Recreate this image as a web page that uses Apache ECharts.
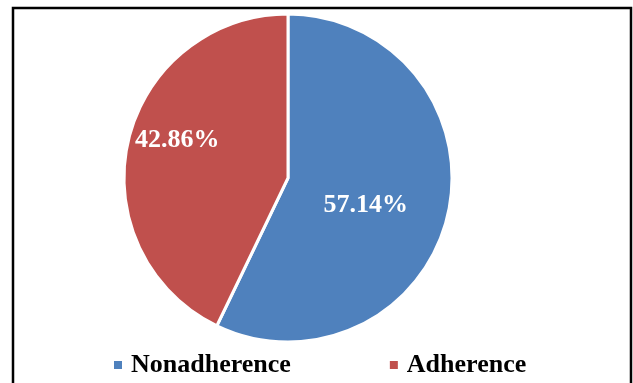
<!DOCTYPE html>
<html>
<head>
<meta charset="utf-8">
<script src="https://cdn.jsdelivr.net/npm/echarts@6/dist/echarts.min.js"></script>
<style>
html,body{margin:0;padding:0;background:#fff;}
#chart{width:633px;height:383px;}
</style>
</head>
<body>
<div id="chart"></div>
<script>
const categories = ["Nonadherence", "Adherence"];
const percentValues = [57.14, 42.86];
const sliceColors = ["#4F81BD", "#C0504D"];
const labelOffsets = [[-5, 8], [-28, -19]];

const chart = echarts.init(document.getElementById('chart'), null, {renderer: 'canvas'});
const font = '"Times New Roman", "Liberation Serif", serif';

chart.setOption({
  animation: false,
  backgroundColor: '#fff',
  graphic: [{
    type: 'rect',
    shape: {x: 13, y: 8, width: 618, height: 400},
    style: {fill: 'none', stroke: '#000', lineWidth: 2.5},
    silent: true
  }],
  legend: {
    data: categories,
    left: 112,
    top: 352,
    padding: 0,
    icon: 'rect',
    itemWidth: 10,
    itemHeight: 10,
    itemGap: 97,
    textStyle: {
      fontFamily: font,
      fontWeight: 'bold',
      fontSize: 26,
      color: '#000',
      padding: [0, 0, 0, 3]
    }
  },
  series: [{
    type: 'pie',
    center: [288, 178],
    radius: 164,
    startAngle: 90,
    clockwise: true,
    data: categories.map((c, i) => ({
      name: c,
      value: percentValues[i],
      itemStyle: {color: sliceColors[i]},
      label: {offset: labelOffsets[i]}
    })),
    itemStyle: {borderColor: '#fff', borderWidth: 3},
    label: {
      show: true,
      position: 'inside',
      formatter: p => p.value.toFixed(2) + '%',
      fontFamily: font,
      fontWeight: 'bold',
      fontSize: 26,
      color: '#fff'
    },
    labelLine: {show: false}
  }]
});
</script>
</body>
</html>
